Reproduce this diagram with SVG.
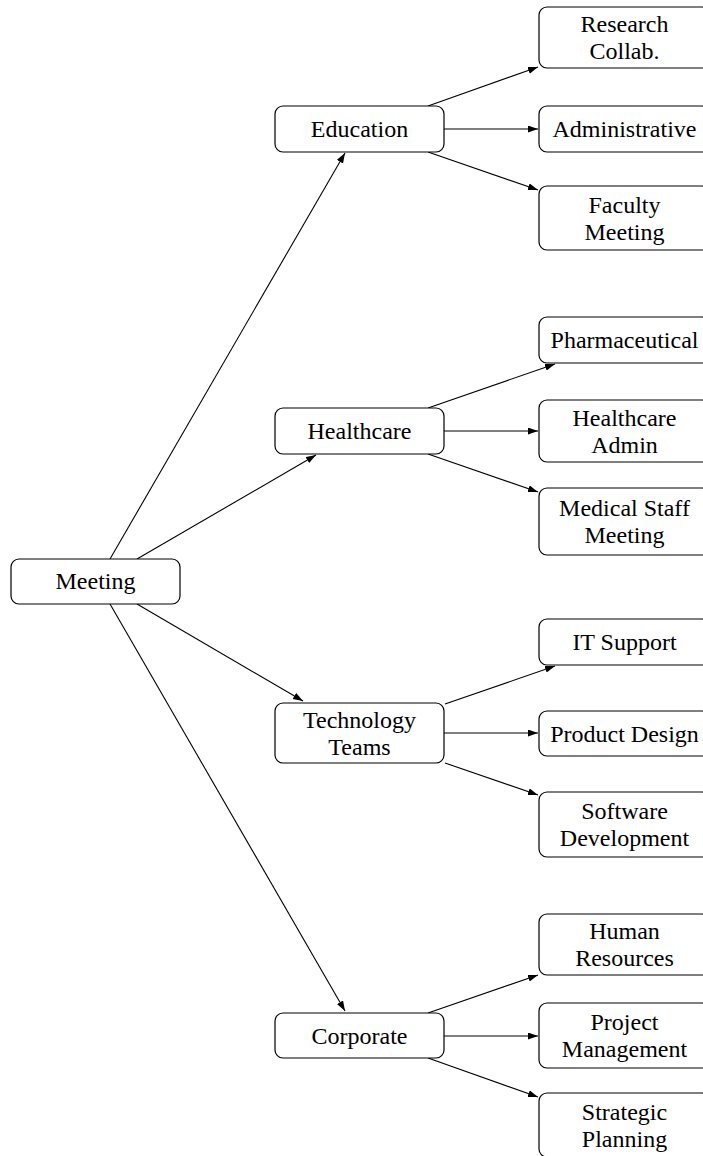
<svg xmlns="http://www.w3.org/2000/svg" width="703" height="1156" viewBox="0 0 703 1156">
<style>
.box{fill:#fff;stroke:#000;stroke-width:1.2}
.t{font-family:"Liberation Serif","Times New Roman",serif;font-size:24px;fill:#000;text-anchor:middle}
.e{stroke:#000;stroke-width:1.1;fill:none;marker-end:url(#ah)}
</style>
<defs>
<marker id="ah" markerUnits="userSpaceOnUse" markerWidth="11" markerHeight="8" refX="10" refY="3.5" orient="auto">
<path d="M0,0 L10,3.5 L0,7 z" fill="#000"/>
</marker>
</defs>
<rect width="703" height="1156" fill="#fff"/>
<g id="connectors">
<line class="e" x1="110" y1="559" x2="345" y2="153"/>
<line class="e" x1="137" y1="559" x2="316" y2="455"/>
<line class="e" x1="137" y1="604" x2="303" y2="701"/>
<line class="e" x1="110" y1="604" x2="345" y2="1011"/>
<line class="e" x1="428" y1="106" x2="538" y2="67"/>
<line class="e" x1="444" y1="129" x2="538" y2="129"/>
<line class="e" x1="428" y1="152" x2="538" y2="190"/>
<line class="e" x1="428" y1="408" x2="555" y2="364"/>
<line class="e" x1="444" y1="431" x2="538" y2="431"/>
<line class="e" x1="428" y1="454" x2="538" y2="492"/>
<line class="e" x1="445" y1="704" x2="555" y2="666"/>
<line class="e" x1="444" y1="733" x2="538" y2="733"/>
<line class="e" x1="445" y1="763" x2="538" y2="795"/>
<line class="e" x1="428" y1="1013" x2="538" y2="975"/>
<line class="e" x1="444" y1="1036" x2="538" y2="1036"/>
<line class="e" x1="428" y1="1058" x2="538" y2="1097"/>
</g>
<g id="meeting"><rect class="box" x="11" y="559" width="169" height="45" rx="8"/><text class="t" x="95.5" y="589">Meeting</text></g>
<g id="education"><rect class="box" x="275" y="106" width="169" height="46" rx="8"/><text class="t" x="359.5" y="137">Education</text></g>
<g id="healthcare"><rect class="box" x="275" y="408" width="169" height="46" rx="8"/><text class="t" x="359.5" y="439">Healthcare</text></g>
<g id="technology"><rect class="box" x="275" y="703" width="169" height="60" rx="8"/><text class="t" x="359.5" y="727.5">Technology</text><text class="t" x="359.5" y="754.5">Teams</text></g>
<g id="corporate"><rect class="box" x="275" y="1013" width="169" height="45" rx="8"/><text class="t" x="359.5" y="1043.5">Corporate</text></g>
<g id="research"><rect class="box" x="539" y="7" width="171" height="61" rx="8"/><text class="t" x="624.5" y="32">Research</text><text class="t" x="624.5" y="59">Collab.</text></g>
<g id="administrative"><rect class="box" x="539" y="106" width="171" height="46" rx="8"/><text class="t" x="624.5" y="137">Administrative</text></g>
<g id="faculty"><rect class="box" x="539" y="186" width="171" height="64" rx="8"/><text class="t" x="624.5" y="212.5">Faculty</text><text class="t" x="624.5" y="239.5">Meeting</text></g>
<g id="pharmaceutical"><rect class="box" x="539" y="317" width="171" height="46" rx="8"/><text class="t" x="624.5" y="348">Pharmaceutical</text></g>
<g id="healthcare-admin"><rect class="box" x="539" y="400" width="171" height="62" rx="8"/><text class="t" x="624.5" y="425.5">Healthcare</text><text class="t" x="624.5" y="452.5">Admin</text></g>
<g id="medical-staff"><rect class="box" x="539" y="488" width="171" height="67" rx="8"/><text class="t" x="624.5" y="516">Medical Staff</text><text class="t" x="624.5" y="543">Meeting</text></g>
<g id="it-support"><rect class="box" x="539" y="619" width="171" height="46" rx="8"/><text class="t" x="624.5" y="650">IT Support</text></g>
<g id="product-design"><rect class="box" x="539" y="711" width="171" height="45" rx="8"/><text class="t" x="624.5" y="741.5">Product Design</text></g>
<g id="software-dev"><rect class="box" x="539" y="792" width="171" height="65" rx="8"/><text class="t" x="624.5" y="819">Software</text><text class="t" x="624.5" y="846">Development</text></g>
<g id="human-resources"><rect class="box" x="539" y="914" width="171" height="61" rx="8"/><text class="t" x="624.5" y="939">Human</text><text class="t" x="624.5" y="966">Resources</text></g>
<g id="project-management"><rect class="box" x="539" y="1003" width="171" height="65" rx="8"/><text class="t" x="624.5" y="1030">Project</text><text class="t" x="624.5" y="1057">Management</text></g>
<g id="strategic-planning"><rect class="box" x="539" y="1093" width="171" height="64" rx="8"/><text class="t" x="624.5" y="1119.5">Strategic</text><text class="t" x="624.5" y="1146.5">Planning</text></g>
</svg>
